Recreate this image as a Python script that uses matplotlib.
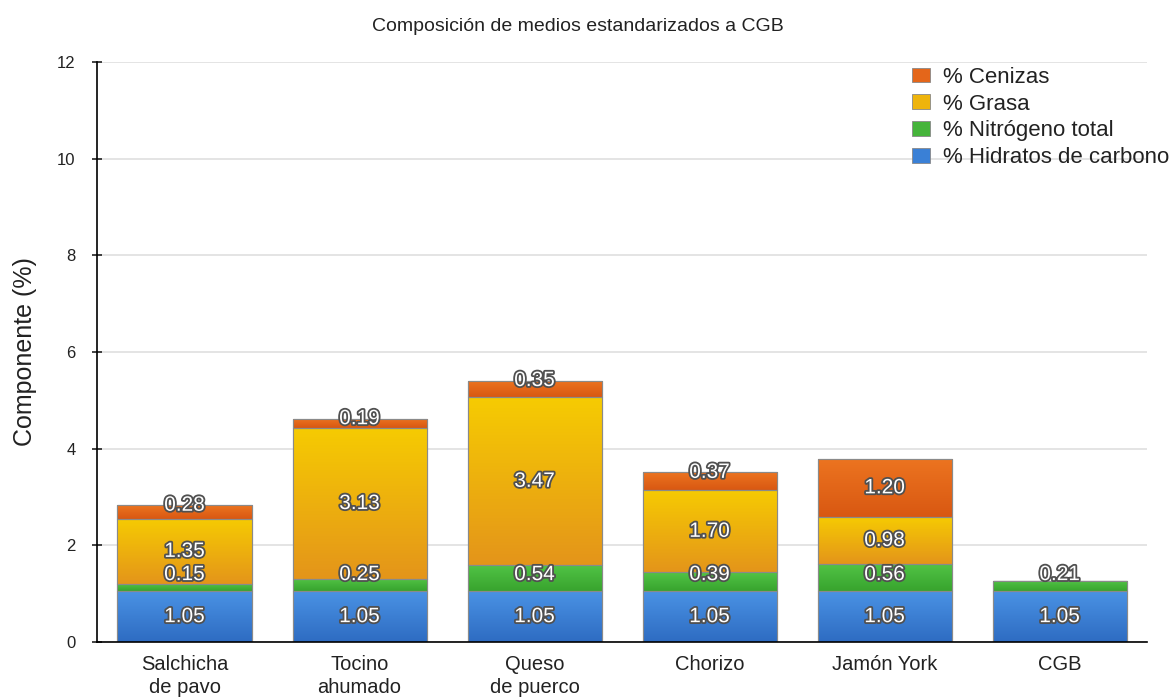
import numpy as np
import matplotlib
matplotlib.use("Agg")
import matplotlib.pyplot as plt
import matplotlib.patheffects as pe
from matplotlib.colors import LinearSegmentedColormap
from matplotlib.patches import Patch

plt.rcParams['font.family'] = ['Liberation Sans', 'DejaVu Sans']

categories = ["Salchicha\nde pavo", "Tocino\nahumado", "Queso\nde puerco",
              "Chorizo", "Jamón York", "CGB"]
hidratos = [1.05, 1.05, 1.05, 1.05, 1.05, 1.05]
nitrogeno = [0.15, 0.25, 0.54, 0.39, 0.56, 0.21]
grasa = [1.35, 3.13, 3.47, 1.70, 0.98, 0.0]
cenizas = [0.28, 0.19, 0.35, 0.37, 1.20, 0.0]

series = [
    ("% Hidratos de carbono", hidratos, "#3a80d6", ("#4a92e4", "#2e6cc2")),
    ("% Nitrógeno total", nitrogeno, "#45b43a", ("#52c446", "#38a42e")),
    ("% Grasa", grasa, "#eeb40c", ("#f6cb02", "#e4951a")),
    ("% Cenizas", cenizas, "#e4661a", ("#ec7420", "#d95812")),
]

fig = plt.figure(figsize=(11.76, 6.99), dpi=100)
ax = fig.add_axes([0.0825, 0.0815, 0.893, 0.8298])

x = np.arange(len(categories))
width = 0.766
bottom = np.zeros(len(categories))
containers = []
for name, vals, col, grad in series:
    vals = np.array(vals, dtype=float)
    bars = ax.bar(x, vals, width, bottom=bottom, color=col, edgecolor="#8a8a8a",
                  linewidth=0.8, zorder=2, label=name)
    containers.append((bars, vals, grad))
    # vertical gradient on each segment
    cmap = LinearSegmentedColormap.from_list(name, [grad[0], grad[1]])
    g = np.linspace(0, 1, 64).reshape(-1, 1)
    for b in bars:
        if b.get_height() <= 0:
            continue
        x0, y0 = b.get_x(), b.get_y()
        im = ax.imshow(g, cmap=cmap, aspect="auto", origin="upper",
                       extent=[x0, x0 + b.get_width(), y0, y0 + b.get_height()],
                       zorder=2.1, interpolation="bilinear")
        im.set_clip_path(b)
    bottom = bottom + vals

# outline on top of gradients
for bars, vals, grad in containers:
    for b in bars:
        if b.get_height() <= 0:
            continue
        ax.add_patch(plt.Rectangle((b.get_x(), b.get_y()), b.get_width(), b.get_height(),
                                   fill=False, edgecolor="#8a8a8a", linewidth=0.8, zorder=2.2))

# value labels
stroke = [pe.withStroke(linewidth=2.6, foreground="#505050")]
min_gap = 0.87
for i in range(len(categories)):
    base = 0.0
    prev_label = None
    for k, (bars, vals, grad) in enumerate(containers):
        v = vals[i]
        if v <= 0:
            continue
        center = base + v / 2
        top = base + v
        if k == 3 and v < 0.5:
            ypos = top
        elif prev_label is not None and k == 1:
            ypos = max(center, prev_label + min_gap)
        else:
            ypos = center
        ax.text(x[i], ypos, f"{v:.2f}", ha="center", va="center", color="white",
                fontsize=15, fontweight="normal", zorder=5, path_effects=stroke)
        prev_label = ypos
        base = top

ax.set_xlim(-0.5, len(categories) - 0.5)
ax.set_ylim(0, 12)
ax.set_yticks([0, 2, 4, 6, 8, 10, 12])
ax.set_xticks(x)
ax.set_xticklabels(categories, fontsize=14.5, color="#222222", linespacing=1.3)
ax.tick_params(axis="x", length=0, pad=9)
ax.tick_params(axis="y", direction="inout", length=7, width=1.2, labelsize=12,
               pad=12, colors="#222222")
ax.yaxis.grid(True, color="#e2e2e2", linewidth=1.3, zorder=0)
ax.set_axisbelow(True)
for s in ("top", "right"):
    ax.spines[s].set_visible(False)
ax.spines["left"].set_linewidth(1.2)
ax.spines["bottom"].set_linewidth(1.2)

ax.set_ylabel("Componente (%)", fontsize=18, color="#222222", labelpad=14)
fig.text(0.4915, 0.962, "Composición de medios estandarizados a CGB",
         ha="center", va="center", fontsize=14, color="#222222")

handles = [Patch(facecolor=c, edgecolor="#888888", linewidth=0.6)
           for _, _, c, _ in series][::-1]
labels = [n for n, _, _, _ in series][::-1]
leg = fig.legend(handles, labels, loc="upper left", bbox_to_anchor=(0.7755, 0.9045),
                 frameon=False, fontsize=16, handlelength=0.8, handleheight=0.65,
                 handletextpad=0.6, labelspacing=0.26, borderaxespad=0,
                 borderpad=0)
for t in leg.get_texts():
    t.set_color("#222222")

fig.savefig("out.png", dpi=100)
